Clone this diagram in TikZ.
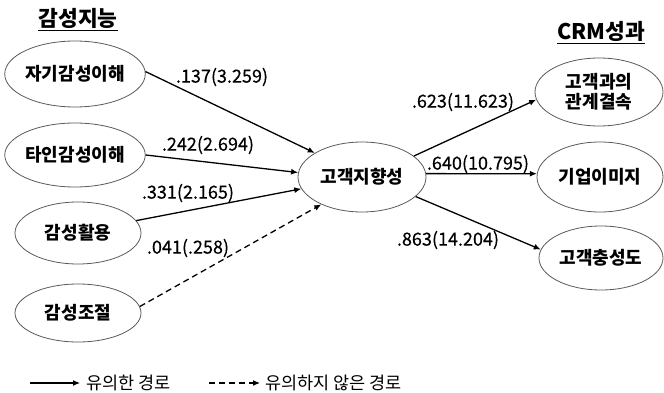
\documentclass[tikz,border=0pt]{standalone}
\usepackage{fontspec}
\setmainfont{Noto Sans CJK KR}
\newfontfamily\kr{Noto Sans CJK KR}
\newfontfamily\krnum[FakeBold=0.4]{Noto Sans CJK KR}
\usetikzlibrary{shapes.geometric,arrows.meta}

\tikzset{
  construct/.style={ellipse, draw=black!65, line width=0.8pt, minimum width=126pt,
    minimum height=64pt, inner sep=0pt, align=center,
    font=\kr\bfseries\fontsize{18}{20}\selectfont},
  coef/.style={font=\krnum\fontsize{18}{20}\selectfont, inner sep=0pt},
  heading/.style={font=\kr\bfseries\fontsize{21.5}{24}\selectfont, inner sep=0pt},
  legendtext/.style={font=\kr\fontsize{17.5}{20}\selectfont, inner sep=0pt, anchor=west},
  path/.style={line width=1.3pt, -{Latex[length=7pt,width=6pt]}},
  nspath/.style={path, dash pattern=on 6pt off 4pt},
}

\begin{document}
\begin{tikzpicture}[x=1pt,y=-1pt]
\useasboundingbox (0,0) rectangle (664,393);

% headings
\node[heading] (h1) at (78,18) {감성지능};
\draw[line width=0.9pt] (h1.south west |- 0,30) -- (h1.south east |- 0,30);
\node[heading] (h2) at (601,31) {CRM성과};
\draw[line width=0.9pt] (h2.south west |- 0,43) -- (h2.south east |- 0,43);

% exogenous constructs
\node[construct, minimum height=66pt] (a1) at (75,74) {자기감성이해};
\node[construct] (a2) at (75,155) {타인감성이해};
\node[construct, minimum height=62pt] (a3) at (78,233) {감성활용};
\node[construct, minimum height=58pt] (a4) at (78,313) {감성조절};

% mediator
\node[construct, minimum width=128pt, minimum height=70pt] (g) at (362,177) {고객지향성};

% outcomes
\node[construct, minimum width=128pt, minimum height=68pt] (r1) at (599,92) {고객과의\\관계결속};
\node[construct, minimum width=126pt, minimum height=70pt] (r2) at (600,177) {기업이미지};
\node[construct, minimum width=124pt, minimum height=64pt] (r3) at (601,258) {고객충성도};

% paths
\draw[path] (a1.2) -- (g.153);
\draw[path] (a2.east) -- (g.176);
\draw[path] (a3.12) -- (g.191);
\draw[nspath] (a4.6) -- (g.214);
\draw[path] (g.22) -- (r1.187);
\draw[path] (g.3) -- (r2.177);
\draw[path] (g.-20) -- (r3.172);

% path coefficients
\node[coef] (c1) at (222,77) {.137(3.259)};
\node[coef] (c2) at (208,145) {.242(2.694)};
\node[coef] (c3) at (188,193) {.331(2.165)};
\node[coef] (c4) at (188,248) {.041(.258)};
\node[coef] (c5) at (463,102) {.623(11.623)};
\node[coef] (c6) at (478,164) {.640(10.795)};
\node[coef] (c7) at (448,240) {.863(14.204)};

% legend
\coordinate (l1) at (30,383);
\coordinate (l2) at (80,383);
\draw[path, line width=1.1pt] (l1) -- (l2);
\node[legendtext] (t1) at (86,383) {유의한 경로};
\coordinate (l3) at (209,383);
\coordinate (l4) at (260,383);
\draw[nspath, line width=1.1pt] (l3) -- (l4);
\node[legendtext] (t2) at (265,383) {유의하지 않은 경로};
\end{tikzpicture}
\end{document}
